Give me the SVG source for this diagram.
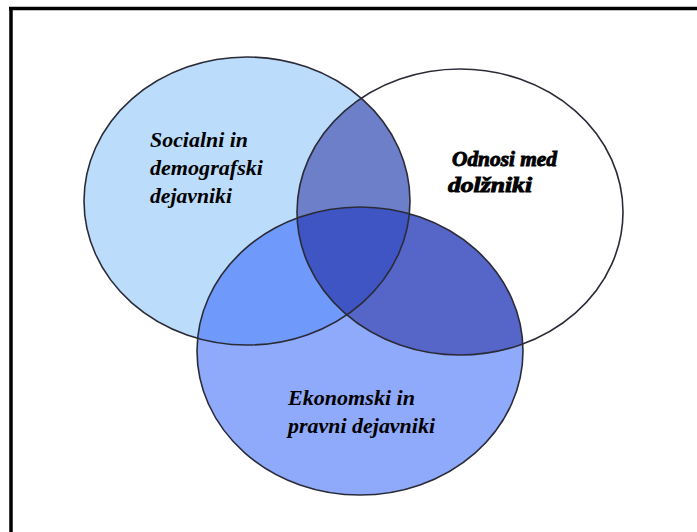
<svg xmlns="http://www.w3.org/2000/svg" width="697" height="532" viewBox="0 0 697 532">
<style>
.outline{fill:none;stroke:#2b2b38;stroke-width:1.6}
.lbl{font-family:"Liberation Serif","Times New Roman",serif;font-style:italic;font-weight:bold;font-size:20px;fill:#000}
.heavy{stroke:#000;stroke-width:0.9}
.frame{stroke:#000;stroke-width:3.5;fill:none}
</style>
<defs>
<ellipse id="e1" cx="247" cy="201" rx="163" ry="144"/>
<ellipse id="e2" cx="460" cy="212" rx="163" ry="143"/>
<ellipse id="e3" cx="360" cy="351" rx="163" ry="144"/>
<clipPath id="c1"><use href="#e1"/></clipPath>
<clipPath id="c2"><use href="#e2"/></clipPath>
</defs>
<rect width="697" height="532" fill="#fff"/>
<g id="frame">
<line class="frame" x1="9" y1="8.5" x2="697" y2="8.5"/>
<line class="frame" x1="11" y1="7" x2="11" y2="532"/>
</g>
<g id="fills">
<use href="#e1" fill="#bcdcfb"/>
<use href="#e2" fill="#ffffff"/>
<use href="#e3" fill="#8fa9fb"/>
<g clip-path="url(#c1)"><use href="#e2" fill="#6c7fc8"/><use href="#e3" fill="#6f9afb"/></g>
<g clip-path="url(#c2)"><use href="#e3" fill="#5565c8"/></g>
<g clip-path="url(#c1)"><g clip-path="url(#c2)"><use href="#e3" fill="#3f55c3"/></g></g>
</g>
<g id="node-social">
<use href="#e1" class="outline"/>
<text class="lbl" x="150" y="147" textLength="98" lengthAdjust="spacingAndGlyphs">Socialni in</text>
<text class="lbl" x="150" y="175" textLength="113" lengthAdjust="spacingAndGlyphs">demografski</text>
<text class="lbl" x="150" y="203" textLength="82" lengthAdjust="spacingAndGlyphs">dejavniki</text>
</g>
<g id="node-odnosi">
<use href="#e2" class="outline"/>
<text class="lbl heavy" x="452" y="166" textLength="105" lengthAdjust="spacingAndGlyphs">Odnosi med</text>
<text class="lbl heavy" x="448" y="192" textLength="84" lengthAdjust="spacingAndGlyphs">dolžniki</text>
</g>
<g id="node-ekonomski">
<use href="#e3" class="outline"/>
<text class="lbl" x="288" y="405" textLength="127" lengthAdjust="spacingAndGlyphs">Ekonomski in</text>
<text class="lbl" x="288" y="433" textLength="147" lengthAdjust="spacingAndGlyphs">pravni dejavniki</text>
</g>
<g id="connectors"/>
</svg>
